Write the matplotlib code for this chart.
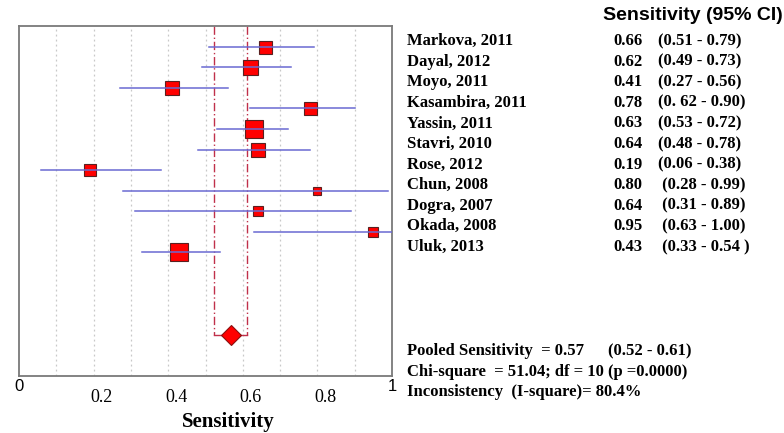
import numpy as np
import matplotlib
matplotlib.use("Agg")
import matplotlib.pyplot as plt
import matplotlib.transforms as mtransforms

# study data
studies = ["Markova, 2011", "Dayal, 2012", "Moyo, 2011", "Kasambira, 2011",
           "Yassin, 2011", "Stavri, 2010", "Rose, 2012", "Chun, 2008",
           "Dogra, 2007", "Okada, 2008", "Uluk, 2013"]
sens = [0.66, 0.62, 0.41, 0.78, 0.63, 0.64, 0.19, 0.80, 0.64, 0.95, 0.43]
ci_lo = [0.51, 0.49, 0.27, 0.62, 0.53, 0.48, 0.06, 0.28, 0.31, 0.63, 0.33]
ci_hi = [0.79, 0.73, 0.56, 0.90, 0.72, 0.78, 0.38, 0.99, 0.89, 1.00, 0.54]
ci_text = ["(0.51 - 0.79)", "(0.49 - 0.73)", "(0.27 - 0.56)", "(0. 62 - 0.90)",
           "(0.53 - 0.72)", "(0.48 - 0.78)", "(0.06 - 0.38)", " (0.28 - 0.99)",
           " (0.31 - 0.89)", " (0.63 - 1.00)", " (0.33 - 0.54 )"]
weights = [13, 15, 14, 13, 18, 14, 12.5, 8.5, 10, 10, 18]   # relative box size

pooled = 0.57
pooled_lo = 0.523
pooled_hi = 0.612
pooled_plot = 0.568

xtick_vals = [0.2, 0.4, 0.6, 0.8]

W, H = 784, 433
fig = plt.figure(figsize=(W / 100, H / 100), dpi=100)
ax = fig.add_axes([19 / W, 1 - 376 / H, (392 - 19) / W, (376 - 26) / H])

serif = "Liberation Serif"
sans = "Liberation Sans"

n = len(studies)
rows = np.arange(n)
pool_row = 14

# grid
for g in np.arange(0.1, 1.0, 0.1):
    ax.axvline(g, color="#c8c8c8", lw=0.9, ls=(0, (1.5, 2.5)), zorder=0)

# pooled dashed lines + bracket
for v in (pooled_lo, pooled_hi):
    ax.plot([v, v], [-1, pool_row], color="#c0304a", lw=1.0,
            ls=(0, (6, 2, 1, 2)), zorder=1)
ax.plot([pooled_lo, pooled_hi], [pool_row, pool_row], color="#c0304a",
        lw=1.0, zorder=1)

# study boxes and CIs
for i in range(n):
    ax.plot(sens[i], rows[i], marker="s", ms=weights[i] * 0.72,
            mfc="#ff0000", mec="#5a2020", mew=0.8, ls="none", zorder=2)
    ax.plot([ci_lo[i], ci_hi[i]], [rows[i], rows[i]], color="#6a6ad2",
            lw=1.1, zorder=3)

ax.plot(pooled_plot, pool_row, marker="D", ms=10, mfc="#ff0000",
        mec="#8a1010", mew=0.8, ls="none", zorder=4)

ax.set_xlim(0, 1)
ax.set_ylim(16, -1)
ax.set_yticks([])
ax.set_xticks([0, 1])
ax.set_xticklabels(["0", "1"], fontfamily=sans, fontsize=12)
ax.tick_params(axis="x", length=0, pad=2)
for s in ax.spines.values():
    s.set_color("#7a7a7a")
    s.set_linewidth(1.3)

# serif tick labels, shifted right as in the source
shift = mtransforms.offset_copy(ax.get_xaxis_transform(), fig=fig, x=8, y=0, units="dots")
for v in xtick_vals:
    ax.text(v, -0.06, f"{v:.1f}", transform=shift, ha="center", va="center",
            fontfamily=serif, fontsize=13)
ax.text(0.56, -0.13, "Sensitivity", transform=ax.transAxes, ha="center",
        va="center", fontfamily=serif, fontsize=15, fontweight="bold")

# right-hand table
fig.text(783 / W, 1 - 15 / H, "Sensitivity (95% CI)", fontfamily=sans,
         fontsize=14, fontweight="bold", va="center", ha="right")
lab = mtransforms.blended_transform_factory(fig.transFigure, ax.transData)
for i in range(n):
    y = rows[i] - 0.27
    ax.text(407 / W, y, studies[i], transform=lab, fontfamily=serif,
            fontsize=12, fontweight="bold", va="center", clip_on=False)
    ax.text(613 / W, y, f"{sens[i]:.2f}", transform=lab, fontfamily=serif,
            fontsize=12, fontweight="bold", va="center", clip_on=False)
    ax.text(658 / W, y, ci_text[i], transform=lab, fontfamily=serif,
            fontsize=12, fontweight="bold", va="center", clip_on=False)

bot = dict(fontfamily=serif, fontsize=12, fontweight="bold", va="center")
fig.text(407 / W, 1 - 351 / H, f"Pooled Sensitivity  = {pooled:.2f}", **bot)
fig.text(608 / W, 1 - 351 / H, f"({pooled_lo:.2f} - {pooled_hi:.2f})", **bot)
fig.text(407 / W, 1 - 372 / H, "Chi-square  = 51.04; df = 10 (p =0.0000)", **bot)
fig.text(407 / W, 1 - 392 / H, "Inconsistency  (I-square)= 80.4%", **bot)

fig.savefig("out.png", dpi=100)
